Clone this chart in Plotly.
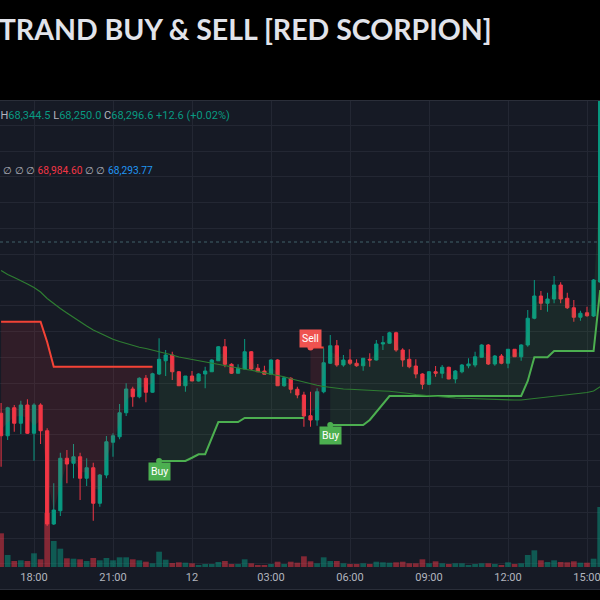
import pandas as pd
import plotly.graph_objects as go

# ---------------- data (15-minute bars) ----------------
times = pd.date_range("2024-03-11 16:45", periods=92, freq="15min")

open_ = [67647, 67557, 67669, 67607, 67680, 67567, 67680, 67577, 67204, 67257,
         67467, 67447, 67473, 67387, 67429, 67287, 67400, 67531, 67553, 67649,
         67744, 67713, 67787, 67731, 67804, 67857, 67880, 67813, 67757, 67796,
         67776, 67804, 67813, 67857, 67913, 67843, 67807, 67824, 67893, 67827,
         67816, 67803, 67860, 67757, 67787, 67743, 67720, 67637, 67620, 67733,
         67847, 67917, 67840, 67860, 67847, 67837, 67863, 67860, 67924, 67927,
         67969, 67900, 67863, 67836, 67804, 67763, 67813, 67807, 67831, 67784,
         67813, 67837, 67840, 67871, 67920, 67844, 67876, 67847, 67903, 67873,
         67920, 68027, 68116, 68087, 68104, 68160, 68107, 68069, 68031, 68049,
         68036, 68172]
high = [67688, 67673, 67680, 67697, 67703, 67687, 67687, 67587, 67367, 67489,
        67500, 67524, 67489, 67467, 67449, 67404, 67556, 67567, 67684, 67767,
        67753, 67791, 67800, 67809, 67947, 67900, 67893, 67816, 67796, 67816,
        67807, 67833, 67863, 67916, 67944, 67847, 67843, 67944, 67896, 67844,
        67837, 67863, 67863, 67791, 67791, 67753, 67733, 67733, 67747, 67907,
        67960, 67940, 67880, 67903, 67863, 67867, 67887, 67940, 67956, 67973,
        67973, 67907, 67903, 67863, 67807, 67816, 67836, 67840, 67833, 67820,
        67844, 67867, 67893, 67923, 67924, 67880, 67884, 67904, 67904, 67923,
        68060, 68180, 68136, 68129, 68196, 68171, 68129, 68100, 68057, 68073,
        68184, 69140]
low = [67433, 67540, 67573, 67564, 67564, 67457, 67524, 67196, 67200, 67236,
       67367, 67387, 67300, 67356, 67217, 67273, 67387, 67473, 67543, 67636,
       67673, 67707, 67691, 67729, 67800, 67796, 67780, 67756, 67733, 67776,
       67774, 67747, 67812, 67856, 67831, 67804, 67806, 67823, 67820, 67812,
       67802, 67800, 67756, 67753, 67727, 67707, 67593, 67593, 67597, 67727,
       67844, 67833, 67833, 67840, 67833, 67817, 67833, 67858, 67900, 67926,
       67893, 67833, 67827, 67787, 67743, 67760, 67793, 67787, 67783, 67767,
       67807, 67827, 67831, 67870, 67840, 67837, 67843, 67827, 67872, 67857,
       67913, 68023, 68060, 68053, 68087, 68087, 68064, 68013, 68017, 68033,
       68032, 68168]
close = [67557, 67669, 67607, 67680, 67567, 67680, 67577, 67204, 67260, 67467,
         67444, 67473, 67387, 67429, 67287, 67400, 67533, 67557, 67649, 67744,
         67713, 67787, 67731, 67805, 67863, 67880, 67813, 67757, 67796, 67776,
         67804, 67816, 67860, 67913, 67843, 67807, 67827, 67893, 67824, 67813,
         67803, 67860, 67757, 67789, 67743, 67720, 67636, 67620, 67733, 67849,
         67917, 67840, 67860, 67847, 67837, 67867, 67860, 67924, 67929, 67969,
         67900, 67860, 67833, 67804, 67763, 67813, 67807, 67831, 67784, 67816,
         67840, 67844, 67873, 67920, 67844, 67876, 67847, 67903, 67873, 67920,
         68027, 68116, 68087, 68104, 68160, 68104, 68069, 68031, 68047, 68037,
         68180, 69060]
volume = [337, 120, 60, 67, 60, 137, 77, 540, 260, 183,
          87, 83, 77, 60, 90, 67, 90, 67, 97, 97,
          77, 67, 53, 37, 153, 73, 40, 47, 43, 37,
          20, 30, 30, 50, 60, 30, 30, 77, 37, 20,
          20, 30, 53, 30, 53, 43, 107, 57, 37, 97,
          60, 60, 37, 30, 30, 37, 30, 53, 47, 43,
          47, 53, 37, 37, 77, 37, 57, 37, 30, 37,
          37, 20, 30, 37, 37, 30, 20, 47, 30, 37,
          120, 167, 67, 50, 67, 50, 47, 57, 43, 43,
          83, 600]
supertrend = [68013, 68013, 68013, 68013, 68013, 68013, 68013, 67932, 67833, 67833,
              67833, 67833, 67833, 67833, 67833, 67833, 67833, 67833, 67833, 67833,
              67833, 67833, 67833, 67833, 67456, 67456, 67456, 67456, 67456, 67469,
              67483, 67483, 67548, 67612, 67612, 67612, 67612, 67628, 67628, 67628,
              67628, 67628, 67628, 67628, 67628, 67628, 67628, 67910, 67910, 67910,
              67600, 67600, 67600, 67600, 67600, 67600, 67620, 67652, 67688, 67716,
              67716, 67716, 67716, 67716, 67716, 67716, 67716, 67716, 67716, 67716,
              67716, 67716, 67716, 67716, 67716, 67716, 67716, 67716, 67716, 67716,
              67776, 67871, 67871, 67871, 67896, 67896, 67896, 67896, 67896, 67896,
              67896, 68140]
ma_line = [68218, 68202, 68190, 68178, 68164, 68150, 68132, 68106, 68085, 68066,
           68048, 68030, 68012, 67996, 67980, 67968, 67954, 67943, 67934, 67926,
           67918, 67911, 67906, 67900, 67894, 67887, 67880, 67872, 67867, 67862,
           67856, 67850, 67845, 67841, 67836, 67832, 67827, 67823, 67819, 67814,
           67809, 67805, 67800, 67793, 67785, 67778, 67771, 67764, 67759, 67754,
           67750, 67747, 67744, 67743, 67741, 67740, 67739, 67737, 67736, 67735,
           67733, 67730, 67726, 67722, 67719, 67716, 67714, 67712, 67710, 67708,
           67707, 67705, 67704, 67703, 67701, 67700, 67700, 67700, 67700, 67700,
           67703, 67707, 67711, 67714, 67717, 67720, 67722, 67725, 67727, 67730,
           67736, 67753]
buy_idx = [24, 50]
sell_idx = [47]
last_price_line = 68332

x_ticks = ["2024-03-11 18:00", "2024-03-11 21:00", "2024-03-12 00:00", "2024-03-12 03:00",
           "2024-03-12 06:00", "2024-03-12 09:00", "2024-03-12 12:00", "2024-03-12 15:00"]
x_labels = ["18:00", "21:00", "12", "03:00", "06:00", "09:00", "12:00", "15:00"]

# ---------------- styling ----------------
BG = "#161a25"
GRID = "#232733"
UP = "#089981"
DN = "#f23645"
ST_UP = "#4caf50"
ST_DN = "#f44336"
TXT = "#b2b5be"

ohlc4 = [(o + h + l + c) / 4 for o, h, l, c in zip(open_, high, low, close)]
vol_colors = ["rgba(8,153,129,0.5)" if c >= o else "rgba(242,54,69,0.5)" for o, c in zip(open_, close)]

# trend segments from signals
changes = sorted([(i, 1) for i in buy_idx] + [(i, -1) for i in sell_idx])
segments = []
start, tr = 0, -1
for i, t in changes:
    segments.append((start, i - 1, tr))
    start, tr = i, t
segments.append((start, len(times) - 1, tr))

fig = go.Figure()
fig.add_trace(go.Bar(x=times, y=volume, marker=dict(color=vol_colors, line=dict(width=0)),
                     yaxis="y", hoverinfo="skip"))

for s, e, t in segments:
    xs = times[s:e + 1]
    fig.add_trace(go.Scatter(x=xs, y=ohlc4[s:e + 1], mode="lines",
                             line=dict(width=0, color="rgba(0,0,0,0)"), yaxis="y2", hoverinfo="skip"))
    fig.add_trace(go.Scatter(x=xs, y=supertrend[s:e + 1], mode="lines",
                             line=dict(width=2, color=ST_UP if t == 1 else ST_DN),
                             fill="tonexty",
                             fillcolor="rgba(76,175,80,0.10)" if t == 1 else "rgba(242,54,69,0.12)",
                             yaxis="y2", hoverinfo="skip"))

fig.add_trace(go.Scatter(x=times, y=ma_line, mode="lines", line=dict(width=1.2, color="#2e7d32"),
                         yaxis="y2", hoverinfo="skip"))

fig.add_trace(go.Candlestick(x=times, open=open_, high=high, low=low, close=close, yaxis="y2",
                             increasing=dict(line=dict(color=UP, width=1), fillcolor=UP),
                             decreasing=dict(line=dict(color=DN, width=1), fillcolor=DN),
                             whiskerwidth=0, hoverinfo="skip"))

# signal dots
fig.add_trace(go.Scatter(x=[times[i] for i in buy_idx], y=[supertrend[i] for i in buy_idx],
                         mode="markers", marker=dict(size=6, color=ST_UP), yaxis="y2", hoverinfo="skip"))
fig.add_trace(go.Scatter(x=[times[i] for i in sell_idx], y=[supertrend[i] for i in sell_idx],
                         mode="markers", marker=dict(size=6, color="#ef5350"), yaxis="y2", hoverinfo="skip"))

annotations = []
for i in buy_idx:
    annotations.append(dict(x=times[i], y=supertrend[i], xref="x", yref="y2", text="Buy",
                            showarrow=False, yshift=-10, yanchor="middle",
                            font=dict(family="Roboto", size=10.5, color="#ffffff"),
                            bgcolor=ST_UP, borderpad=2))
for i in sell_idx:
    annotations.append(dict(x=times[i], y=supertrend[i], xref="x", yref="y2", text="Sell",
                            showarrow=False, yshift=9, yanchor="middle",
                            font=dict(family="Roboto", size=10.5, color="#ffffff"),
                            bgcolor="#ef5350", borderpad=2))

PLOT_TOP, PLOT_BOT = 101, 567
def py(pix):
    return (PLOT_BOT - pix) / (PLOT_BOT - PLOT_TOP)

annotations.append(dict(xref="paper", yref="paper", x=494 / 600, y=py(29), xanchor="right", yanchor="middle",
                        showarrow=False, text="<b>ULTRA TRAND BUY &amp; SELL [RED SCORPION]</b>",
                        font=dict(family="Lato", size=28.5, color="#e1e3ea")))
annotations.append(dict(xref="paper", yref="paper", x=-54 / 600, y=py(115), xanchor="left", yanchor="middle",
                        showarrow=False,
                        text=(f"<span style='color:{TXT}'>O</span>68,284.0 "
                              f"<span style='color:{TXT}'>H</span>68,344.5 "
                              f"<span style='color:{TXT}'>L</span>68,250.0 "
                              f"<span style='color:{TXT}'>C</span>68,296.6 +12.6 (+0.02%)"),
                        font=dict(family="Roboto", size=11, color=UP)))
annotations.append(dict(xref="paper", yref="paper", x=1 / 600, y=py(170), xanchor="left", yanchor="middle",
                        showarrow=False,
                        text=(f"∅ ∅ ∅ <span style='color:{DN}'>68,984.60</span> ∅ ∅ "
                              f"<span style='color:#2196f3'>68,293.77</span>"),
                        font=dict(family="Roboto", size=10.2, color=TXT)))

shapes = [
    dict(type="rect", xref="paper", yref="paper", x0=0, x1=1, y0=py(589), y1=0,
         fillcolor=BG, line=dict(width=0), layer="below"),
    dict(type="line", xref="paper", yref="paper", x0=0, x1=1, y0=py(589.5), y1=py(589.5),
         line=dict(color="#2a2e39", width=1)),
    dict(type="line", xref="paper", yref="paper", x0=0, x1=1, y0=py(100.5), y1=py(100.5),
         line=dict(color="#2a2e39", width=1)),
    dict(type="line", xref="paper", yref="y2", x0=0, x1=597 / 600, y0=last_price_line, y1=last_price_line,
         line=dict(color="#40606a", width=1, dash="dot")),
]

fig.update_layout(
    width=600, height=600,
    margin=dict(l=0, r=0, t=PLOT_TOP, b=600 - PLOT_BOT),
    paper_bgcolor="#000000", plot_bgcolor=BG,
    showlegend=False, bargap=0.13, boxgap=0.3,
    annotations=annotations, shapes=shapes,
    xaxis=dict(type="date", range=["2024-03-11 16:42:32", "2024-03-12 15:29:36"],
               tickvals=x_ticks, ticktext=x_labels, showgrid=True, gridcolor=GRID, gridwidth=1,
               zeroline=False, showline=False, ticks="", ticklabelstandoff=2,
               ticklabeloverflow="allow",
               tickfont=dict(family="Roboto", size=11, color=TXT),
               rangeslider=dict(visible=False), fixedrange=True),
    yaxis=dict(range=[0, 4660], visible=False, fixedrange=True),
    yaxis2=dict(overlaying="y", side="right", range=[67032, 68896], showgrid=True, gridcolor=GRID,
                tick0=68180, dtick=103.2, showticklabels=False, ticks="", zeroline=False, fixedrange=True),
)

fig.write_html("out.html", config={"displayModeBar": False})
